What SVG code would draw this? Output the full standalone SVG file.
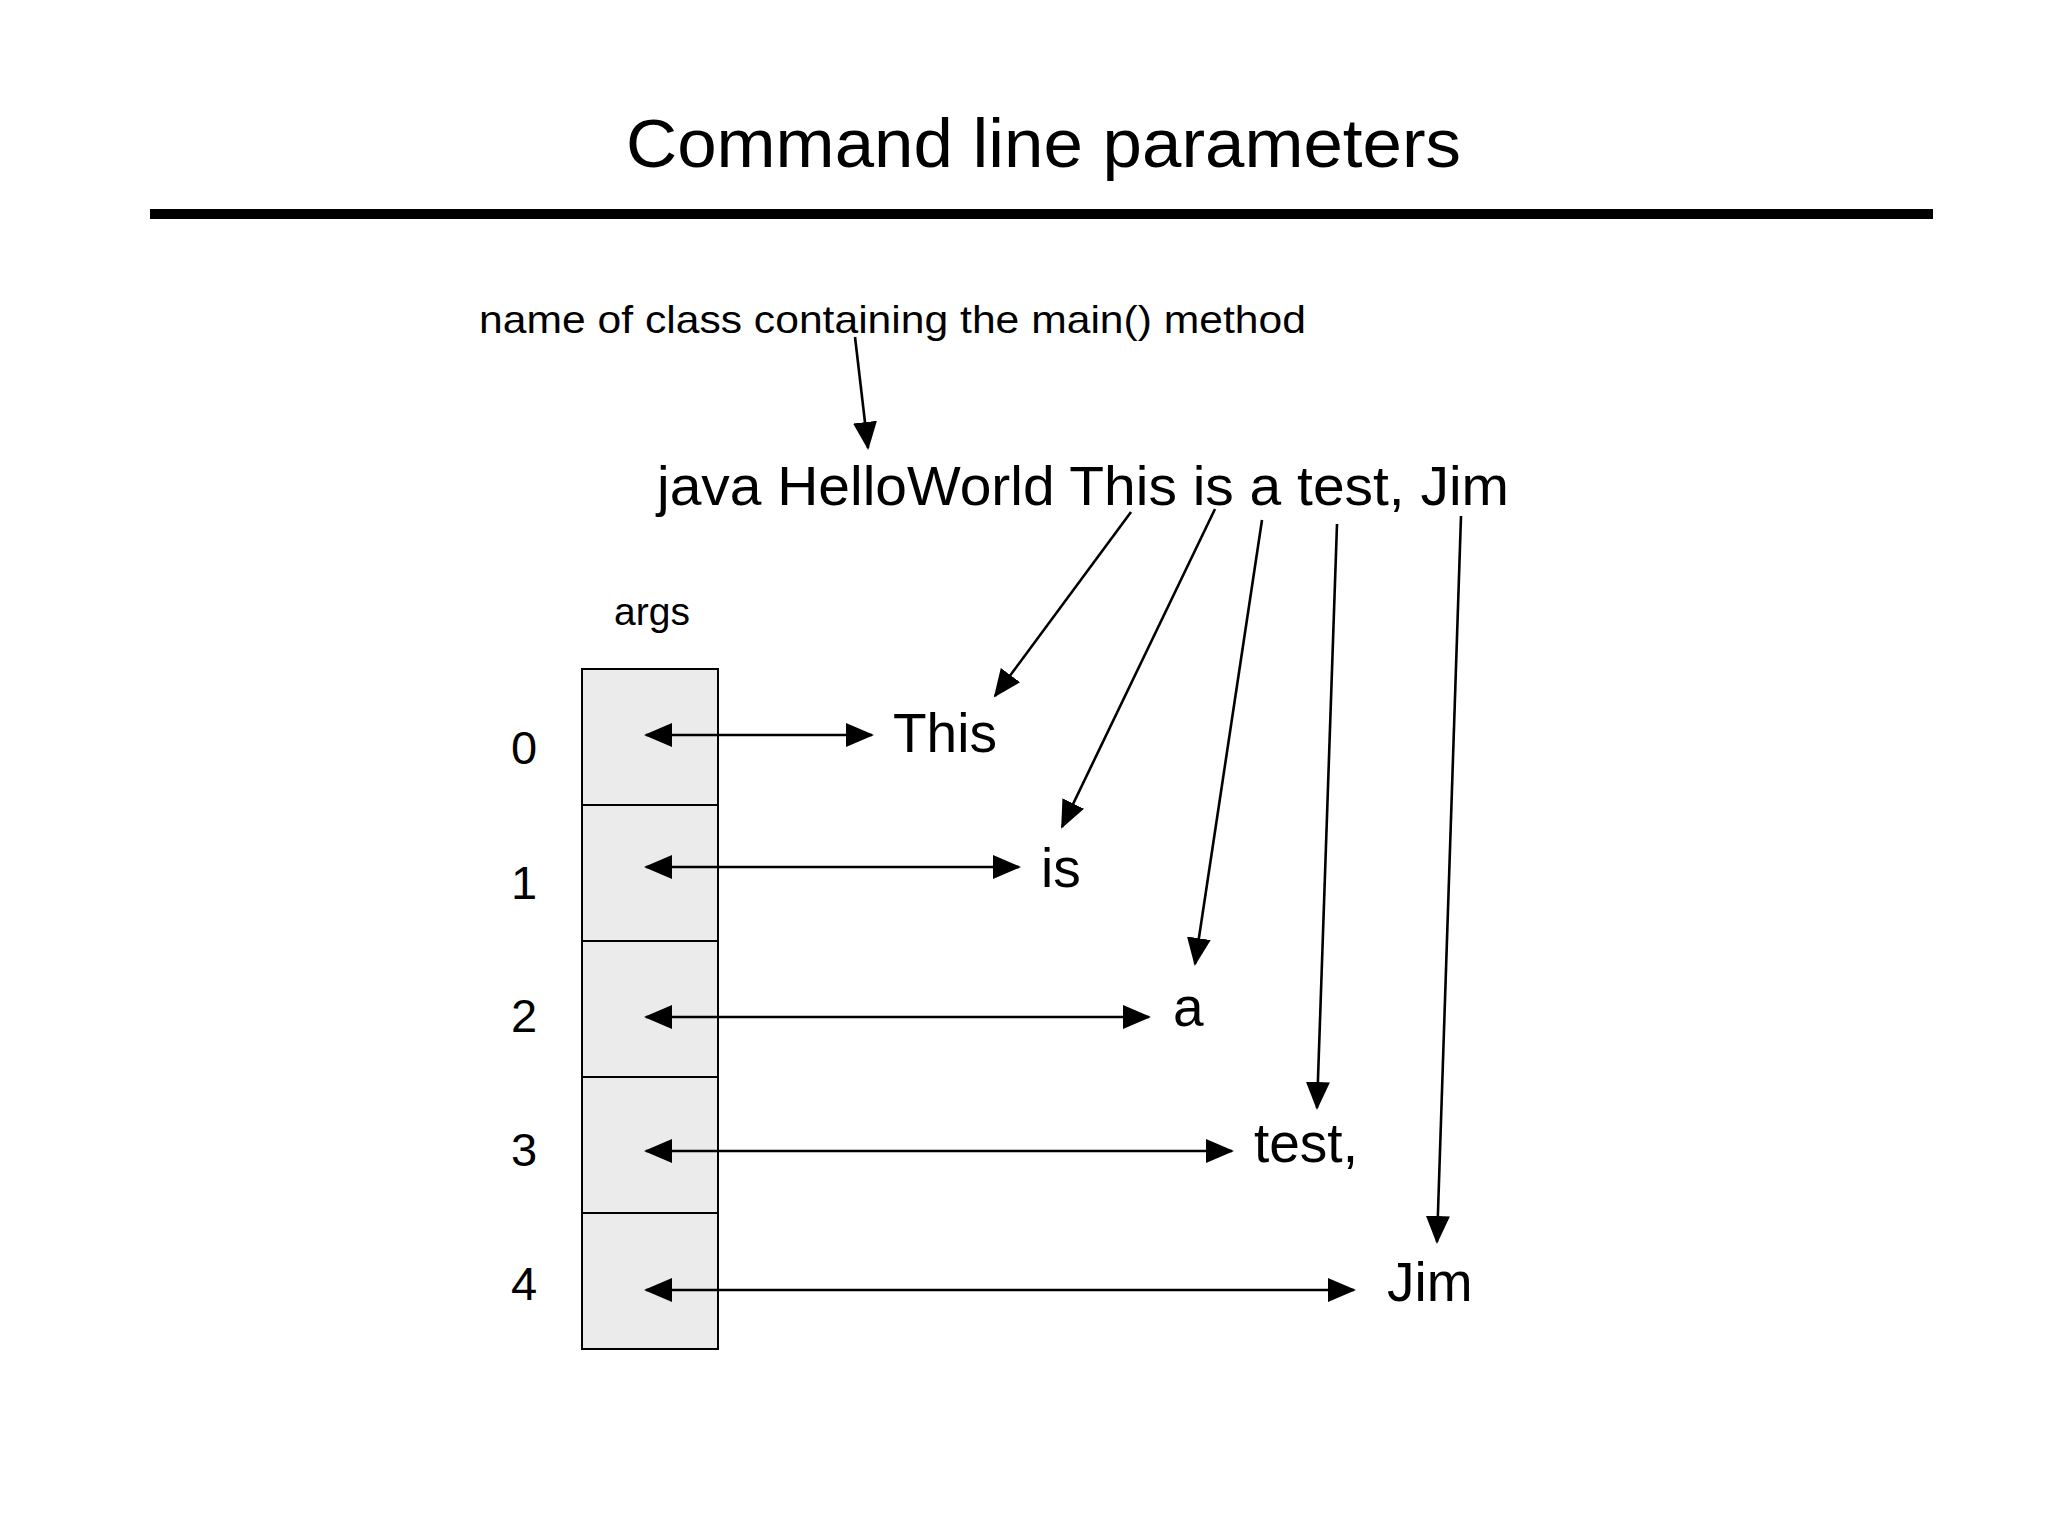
<svg xmlns="http://www.w3.org/2000/svg" width="2048" height="1536" viewBox="0 0 2048 1536">
<style>
text{font-family:"Liberation Sans",Arial,sans-serif;fill:#000}
.c{stroke:#000;stroke-width:2.6;fill:none}
.box{fill:#ebebeb;stroke:#000;stroke-width:2}
</style>
<defs>
<marker id="ah" markerUnits="userSpaceOnUse" markerWidth="28" markerHeight="24" refX="26" refY="12" orient="auto-start-reverse" viewBox="0 0 28 24">
<path d="M0,0 L28,12 L0,24 Z" fill="#000"/>
</marker>
</defs>
<rect width="2048" height="1536" fill="#fff"/>
<text x="626" y="167" font-size="68" textLength="835" lengthAdjust="spacingAndGlyphs">Command line parameters</text>
<rect x="150" y="209" width="1783" height="10" fill="#000"/>
<g id="note"><text x="479" y="333" font-size="39" textLength="827" lengthAdjust="spacingAndGlyphs">name of class containing the main() method</text></g>
<g id="cmd"><text x="657" y="505" font-size="55" textLength="852" lengthAdjust="spacingAndGlyphs">java HelloWorld This is a test, Jim</text></g>
<g id="args">
<text x="652" y="625" font-size="39" text-anchor="middle">args</text>
<rect class="box" x="582" y="669" width="136" height="136"/>
<rect class="box" x="582" y="805" width="136" height="136"/>
<rect class="box" x="582" y="941" width="136" height="136"/>
<rect class="box" x="582" y="1077" width="136" height="136"/>
<rect class="box" x="582" y="1213" width="136" height="136"/>
<g font-size="47" text-anchor="middle">
<text x="524" y="764">0</text><text x="524" y="899">1</text><text x="524" y="1032">2</text><text x="524" y="1166">3</text><text x="524" y="1300">4</text>
</g>
</g>
<g id="words" font-size="55">
<text x="893" y="752">This</text>
<text x="1041" y="887">is</text>
<text x="1173" y="1026">a</text>
<text x="1254" y="1162">test,</text>
<text x="1387" y="1301">Jim</text>
</g>
<g id="connectors">
<line class="c" x1="855" y1="337" x2="868" y2="448" marker-end="url(#ah)"/>
<line class="c" x1="646" y1="735" x2="872" y2="735" marker-start="url(#ah)" marker-end="url(#ah)"/>
<line class="c" x1="646" y1="867" x2="1019" y2="867" marker-start="url(#ah)" marker-end="url(#ah)"/>
<line class="c" x1="646" y1="1017" x2="1149" y2="1017" marker-start="url(#ah)" marker-end="url(#ah)"/>
<line class="c" x1="646" y1="1151" x2="1232" y2="1151" marker-start="url(#ah)" marker-end="url(#ah)"/>
<line class="c" x1="646" y1="1290" x2="1354" y2="1290" marker-start="url(#ah)" marker-end="url(#ah)"/>
<line class="c" x1="1131" y1="512" x2="995" y2="696" marker-end="url(#ah)"/>
<line class="c" x1="1215" y1="509" x2="1062" y2="827" marker-end="url(#ah)"/>
<line class="c" x1="1262" y1="520" x2="1195" y2="964" marker-end="url(#ah)"/>
<line class="c" x1="1337" y1="524" x2="1317" y2="1108" marker-end="url(#ah)"/>
<line class="c" x1="1461" y1="516" x2="1437" y2="1242" marker-end="url(#ah)"/>
</g>
</svg>
